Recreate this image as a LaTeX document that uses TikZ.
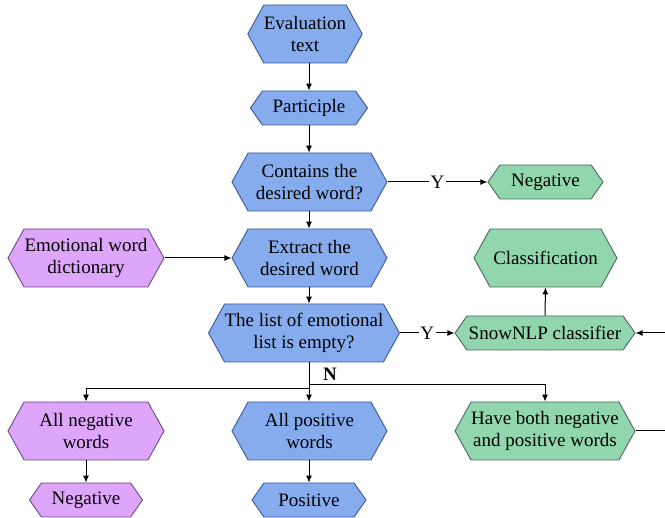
\documentclass[tikz,border=0pt]{standalone}
\usepackage{fontspec}
\setmainfont{Liberation Serif}
\newfontfamily\tnr{Liberation Serif}
\usetikzlibrary{shapes.symbols,arrows.meta}
\definecolor{cblue}{RGB}{134,172,238}
\definecolor{bblue}{RGB}{60,88,150}
\definecolor{cpurple}{RGB}{221,166,250}
\definecolor{bpurple}{RGB}{105,75,125}
\definecolor{cgreen}{RGB}{145,214,172}
\definecolor{bgreen}{RGB}{75,105,90}
\begin{document}
\begin{tikzpicture}[x=1pt,y=-1pt,
  hex/.style={shape=signal, signal to=west and east, draw, line width=0.9pt,
    inner sep=0pt, align=center, font=\tnr\fontsize{19}{22}\selectfont},
  big/.style={minimum height=58pt, signal pointer angle=122},
  small/.style={minimum height=34pt, signal pointer angle=110},
  hblue/.style={fill=cblue, draw=bblue},
  hpurple/.style={fill=cpurple, draw=bpurple},
  hgreen/.style={fill=cgreen, draw=bgreen},
  arr/.style={-{Latex[length=7pt,width=6pt]}, line width=1pt},
  ln/.style={line width=1pt},
  lab/.style={fill=white, inner sep=1.5pt, font=\tnr\fontsize{19}{22}\selectfont}
]
\clip (0,0) rectangle (665,518);

\node[hex,big,hblue,minimum width=107pt] (eval) at (305,34) {Evaluation\\text};
\node[hex,small,hblue,minimum width=117pt] (part) at (309,108) {Participle};
\node[hex,big,hblue,minimum width=155pt] (cont) at (309.5,182) {Contains the\\desired word?};
\node[hex,small,hgreen,minimum width=115pt] (neg1) at (545.5,182) {Negative};
\node[hex,big,hpurple,minimum width=156pt] (dict) at (86,258) {Emotional word\\dictionary};
\node[hex,big,hblue,minimum width=155pt] (extr) at (309.5,258) {Extract the\\desired word};
\node[hex,big,hgreen,minimum width=143pt] (cls) at (545.5,258) {Classification};
\node[hex,big,hblue,minimum width=188pt] (list) at (304,333) {The list of emotional\\list is empty?};
\node[hex,small,hgreen,minimum width=180pt] (snow) at (545,333) {SnowNLP classifier};
\node[hex,big,hpurple,minimum width=156pt] (aneg) at (86,431) {All negative\\words};
\node[hex,big,hblue,minimum width=155pt] (apos) at (309.5,431) {All positive\\words};
\node[hex,big,hgreen,minimum width=180pt] (both) at (545,431) {Have both negative\\and positive words};
\node[hex,small,hpurple,minimum width=113pt] (neg2) at (86,500) {Negative};
\node[hex,small,hblue,minimum width=114pt] (pos) at (309,500) {Positive};

\coordinate (ax) at (309,0);
\draw[arr] (eval.south -| ax) -- (part.north -| ax);
\draw[arr] (part.south -| ax) -- (cont.north -| ax);
\draw[arr] (cont.south -| ax) -- (extr.north -| ax);
\draw[arr] (extr.south -| ax) -- (list.north -| ax);
\draw[arr] (cont.east) -- node[lab] (y1) {Y} (neg1.west);
\draw[arr] (dict.east) -- (extr.west);
\draw[arr] (list.east) -- node[lab] (y2) {Y} (snow.west);
\draw[arr] (snow.north) -- (cls.south);

\coordinate (nl) at (309,389);
\coordinate (nr) at (309,385);
\draw[arr] (list.south -| ax) -- (apos.north -| ax);
\draw[arr] (nl) -| (aneg.north);
\draw[arr] (nr) -| (both.north);
\node[font=\tnr\fontsize{19}{22}\selectfont\bfseries] (nlab) at (330,374) {N};

\draw[arr] (aneg.south) -- (neg2.north);
\draw[arr] (apos.south -| ax) -- (pos.north -| ax);

\coordinate (r1) at (672,431);
\coordinate (r2) at (672,333);
\draw[ln] (both.east) -- (r1) -- (r2);
\draw[arr] (r2) -- (snow.east);
\end{tikzpicture}
\end{document}
